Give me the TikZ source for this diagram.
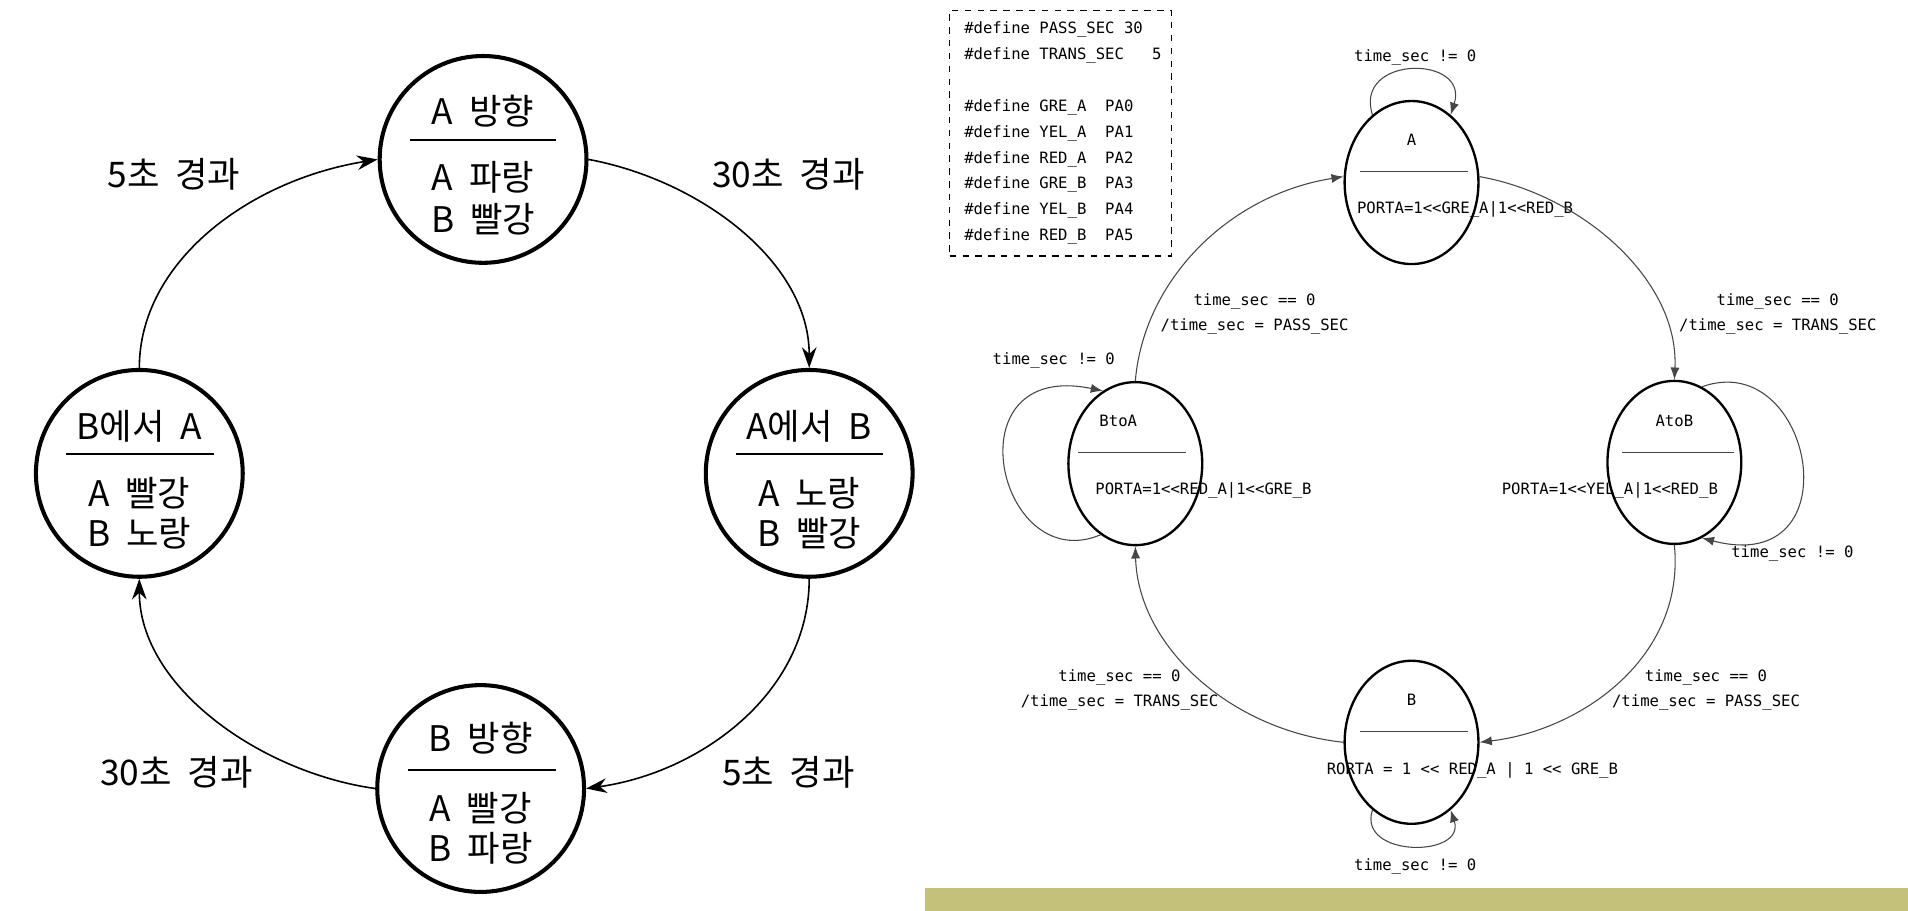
\documentclass[tikz,border=0pt]{standalone}
\usepackage{fontspec}
\setmainfont{Noto Sans CJK KR}
\newfontfamily\codefont{DejaVu Sans Mono}
\usetikzlibrary{arrows.meta,shapes.geometric}
\definecolor{bandcol}{RGB}{196,194,122}
\definecolor{wirecol}{RGB}{70,70,70}
\newcommand\csp{\hspace*{0.6021em}}
\newcommand\ksp{\hspace*{0.45em}}
\begin{document}
\begin{tikzpicture}[x=0.02cm,y=-0.02cm,
 kstate/.style={circle,draw,line width=1.9pt,minimum size=3.4cm,inner sep=0pt},
 ktext/.style={inner sep=0pt,font=\fontsize{16.5pt}{19pt}\selectfont},
 kline/.style={line width=1.1pt},
 karrow/.style={line width=0.75pt,-{Stealth[length=3.4mm,width=2.4mm]}},
 rstate/.style={ellipse,draw,line width=1.1pt,minimum width=2.2cm,minimum height=2.68cm,inner sep=0pt},
 ctext/.style={inner sep=0pt,font=\codefont\fontsize{7.3pt}{12.1pt}\selectfont},
 rline/.style={line width=0.5pt,draw=wirecol},
 rarrow/.style={line width=0.5pt,draw=wirecol,-{Latex[length=2mm,width=1.5mm]}},
]
\useasboundingbox (0,0) rectangle (1568,748.6);
\fill[bandcol] (760,730) rectangle (1568,748.6);

% ---------- left diagram ----------
\node[kstate] (LA)  at (397,131) {};
\node[kstate] (LBA) at (114.5,389) {};
\node[kstate] (LAB) at (665,389) {};
\node[kstate] (LB)  at (395,648) {};

\node[ktext] (LA1) at (397,91) {A\ksp 방향};
\draw[kline] (337,115) -- (457,115);
\node[ktext] (LA2) at (397,146) {A\ksp 파랑};
\node[ktext] (LA3) at (397,180) {B\ksp 빨강};

\node[ktext] (LBA1) at (114.5,350) {B에서\ksp A};
\draw[kline] (54,373) -- (176,373);
\node[ktext] (LBA2) at (114.5,405) {A\ksp 빨강};
\node[ktext] (LBA3) at (114.5,438) {B\ksp 노랑};

\node[ktext] (LAB1) at (665,350) {A에서\ksp B};
\draw[kline] (605,373) -- (726,373);
\node[ktext] (LAB2) at (665,405) {A\ksp 노랑};
\node[ktext] (LAB3) at (665,438) {B\ksp 빨강};

\node[ktext] (LB1) at (395,607) {B\ksp 방향};
\draw[kline] (335,633) -- (457,633);
\node[ktext] (LB2) at (395,664) {A\ksp 빨강};
\node[ktext] (LB3) at (395,697) {B\ksp 파랑};

\draw[karrow] (LBA.north) .. controls (114.5,215) and (205,148) .. (LA.west);
\draw[karrow] (LA.east) .. controls (575,148) and (665,215) .. (LAB.north);
\draw[karrow] (LAB.south) .. controls (665,570) and (575,635) .. (LB.east);
\draw[karrow] (LB.west) .. controls (215,635) and (114.5,565) .. (LBA.south);

\node[ktext] (t1) at (143,143) {5초\ksp 경과};
\node[ktext] (t2) at (648,143) {30초\ksp 경과};
\node[ktext] (t3) at (145,635) {30초\ksp 경과};
\node[ktext] (t4) at (648,635) {5초\ksp 경과};

% ---------- right diagram ----------
\node[draw,dashed,line width=0.5pt,anchor=north west,minimum width=3.64cm,minimum height=4.04cm,
      inner xsep=0.24cm,inner ysep=0pt,align=left,text width=3.16cm,
      font=\codefont\fontsize{7.3pt}{12.1pt}\selectfont] (defs) at (780,8)
 {\#define\csp PASS\_SEC\csp 30\\
  \#define\csp TRANS\_SEC\csp\csp\csp 5\\[12.1pt]
  \#define\csp GRE\_A\csp\csp PA0\\
  \#define\csp YEL\_A\csp\csp PA1\\
  \#define\csp RED\_A\csp\csp PA2\\
  \#define\csp GRE\_B\csp\csp PA3\\
  \#define\csp YEL\_B\csp\csp PA4\\
  \#define\csp RED\_B\csp\csp PA5};

\node[rstate] (RA)  at (1160,150) {};
\node[rstate] (RAB) at (1376,380) {};
\node[rstate] (RB)  at (1160,610) {};
\node[rstate] (RBA) at (933,381) {};

\node[ctext] (RA1) at (1160,115) {A};
\draw[rline] (1118,141) -- (1206,141);
\node[ctext] (RA2) at (1204,172) {PORTA=1<<GRE\_A|1<<RED\_B};

\node[ctext] (RAB1) at (1376,346) {AtoB};
\draw[rline] (1333,372) -- (1425,372);
\node[ctext] (RAB2) at (1323,403) {PORTA=1<<YEL\_A|1<<RED\_B};

\node[ctext] (RB1) at (1160,575) {B};
\draw[rline] (1118,601) -- (1206,601);
\node[ctext] (RB2) at (1210,633) {RORTA = 1 << RED\_A | 1 << GRE\_B};

\node[ctext] (RBA1) at (919,346) {BtoA};
\draw[rline] (886,372) -- (975,372);
\node[ctext] (RBA2) at (989,403) {PORTA=1<<RED\_A|1<<GRE\_B};

\draw[rarrow] (RBA.north) .. controls (940,230) and (1010,160) .. (RA.175);
\draw[rarrow] (RA.5) .. controls (1300,160) and (1380,230) .. (RAB.north);
\draw[rarrow] (RAB.south) .. controls (1385,540) and (1300,600) .. (RB.east);
\draw[rarrow] (RB.west) .. controls (1010,600) and (935,530) .. (RBA.south);

\draw[rarrow] (RA.120) .. controls (1112,45) and (1208,45) .. (RA.60);
\draw[rarrow] (RB.240) .. controls (1115,705) and (1205,705) .. (RB.300);
\draw[rarrow] (RBA.244) .. controls (820,475) and (780,295) .. (RBA.114);
\draw[rarrow] (RAB.70) .. controls (1490,285) and (1525,475) .. (RAB.290);

\node[ctext,align=center] (l1) at (1031,258) {time\_sec == 0\\/time\_sec = PASS\_SEC};
\node[ctext,align=center] (l2) at (1461,258) {time\_sec == 0\\/time\_sec = TRANS\_SEC};
\node[ctext,align=center] (l3) at (1402,567) {time\_sec == 0\\/time\_sec = PASS\_SEC};
\node[ctext,align=center] (l4) at (920,567) {time\_sec == 0\\/time\_sec = TRANS\_SEC};

\node[ctext] (s1) at (1163,47) {time\_sec != 0};
\node[ctext] (s2) at (866,296) {time\_sec != 0};
\node[ctext] (s3) at (1473,455) {time\_sec != 0};
\node[ctext] (s4) at (1163,712) {time\_sec != 0};
\end{tikzpicture}
\end{document}
